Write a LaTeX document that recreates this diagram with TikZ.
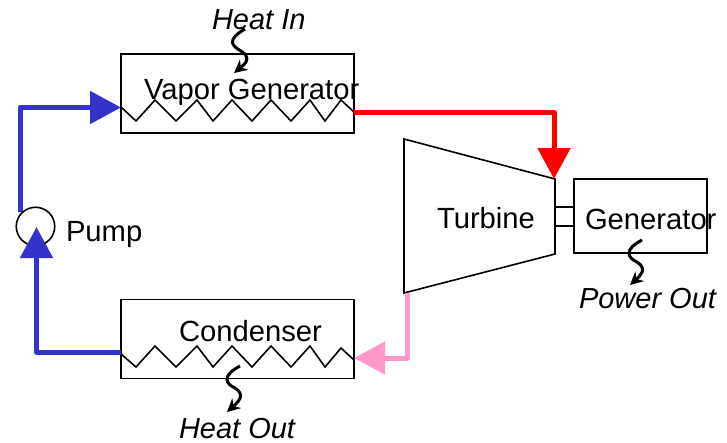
\documentclass[tikz,border=0pt]{standalone}
\usepackage{fontspec}
\setmainfont{Liberation Sans}
\usetikzlibrary{arrows.meta}
\definecolor{pipeblue}{RGB}{51,51,204}
\definecolor{pipepink}{RGB}{255,153,204}
\begin{document}
\begin{tikzpicture}[x=1pt,y=-1pt,
  box/.style={draw=black,line width=1.6pt,fill=white,inner sep=0pt,outer sep=0pt,anchor=north west},
  zig/.style={draw=black,line width=1.6pt,line join=miter},
  label/.style={anchor=base west,inner sep=0pt,outer sep=0pt,font=\fontsize{29.2}{31}\selectfont},
  ilabel/.style={label,font=\fontsize{29}{31}\selectfont\itshape},
  pipe/.style={line width=5pt,line join=round,-{Triangle[length=31pt,width=32pt]}},
  wavy/.style={line width=3pt,-{Stealth[length=13pt,width=13pt]}},
  shaft/.style={draw=black,line width=1.6pt}]
\useasboundingbox (0,0) rectangle (727,442);
\node[box,minimum width=233pt,minimum height=79pt] (vg) at (121,54) {};
\node[box,minimum width=233pt,minimum height=79pt] (cond) at (121,299.5) {};
\node[box,minimum width=133pt,minimum height=74pt] (gen) at (574,179) {};
\coordinate (t1) at (404,139);
\coordinate (t2) at (555,179);
\coordinate (t3) at (555,254);
\coordinate (t4) at (404,293);
\draw[line width=1.6pt,line join=miter,fill=white] (t1) -- (t2) -- (t3) -- (t4) -- cycle;
\coordinate (s1) at (555,207);
\coordinate (s2) at (555,226);
\draw[shaft] (s1) -- (s1 -| gen.west);
\draw[shaft] (s2) -- (s2 -| gen.west);
\draw[zig] (121,107) -- (136,121) -- (155,100) -- (176,121) -- (197,100) -- (213,121) -- (232,100) -- (252,121) -- (271,100) -- (291,121) -- (310,100) -- (325,121) -- (341,100) -- (354,112);
\draw[zig] (121,354) -- (136,367) -- (155,346) -- (176,367) -- (197,346) -- (213,367) -- (232,346) -- (252,367) -- (271,346) -- (291,367) -- (310,346) -- (325,367) -- (341,348) -- (354,360);
% pipes
\coordinate (pumpout) at (20,212);
\coordinate (vgin) at (121,107.5);
\coordinate (vgout) at (354,112);
\coordinate (turbin) at (554,179);
\coordinate (turbout) at (407,293);
\coordinate (condin) at (354,358);
\coordinate (condout) at (121,352);
\coordinate (pumpin) at (36.5,227);
\draw[pipe,draw=pipeblue] (pumpout) |- (vgin);
\node[circle,draw=black,line width=1.6pt,fill=white,outer sep=0pt,minimum size=38.5pt,inner sep=0pt] (pump) at (35.5,226.5) {};
\draw[pipe,draw=pipeblue] (condout) -| (pumpin);
\draw[pipe,draw=red] (vgout) -| (turbin);
\draw[pipe,draw=pipepink] (turbout) |- (condin);
% wavy arrows
\coordinate (hi0) at (245,29);
\coordinate (hi1) at (234,73);
\coordinate (ho0) at (240,366);
\coordinate (ho1) at (227,412);
\coordinate (po0) at (642,240);
\coordinate (po1) at (630,285);
\draw[wavy] (hi0) .. controls (226,40) and (232,46) .. (241,51) .. controls (252,58) and (245,64) .. (hi1);
\draw[wavy] (ho0) .. controls (221,376) and (226,384) .. (235,388) .. controls (246,395) and (238,402) .. (ho1);
\draw[wavy] (po0) .. controls (623,250) and (628,258) .. (637,262) .. controls (648,269) and (640,276) .. (po1);
% labels
\node[ilabel] (lhi) at (212,29) {Heat In};
\node[label] (lvg) at (144,99) {Vapor Generator};
\node[label] (lpump) at (66,241) {Pump};
\node[label] (lcond) at (179,341) {Condenser};
\node[ilabel] (lho) at (179,438) {Heat Out};
\node[label] (ltur) at (437,228) {Turbine};
\node[label] (lgen) at (585,229) {Generator};
\node[ilabel] (lpo) at (579,308) {Power Out};
\end{tikzpicture}
\end{document}
